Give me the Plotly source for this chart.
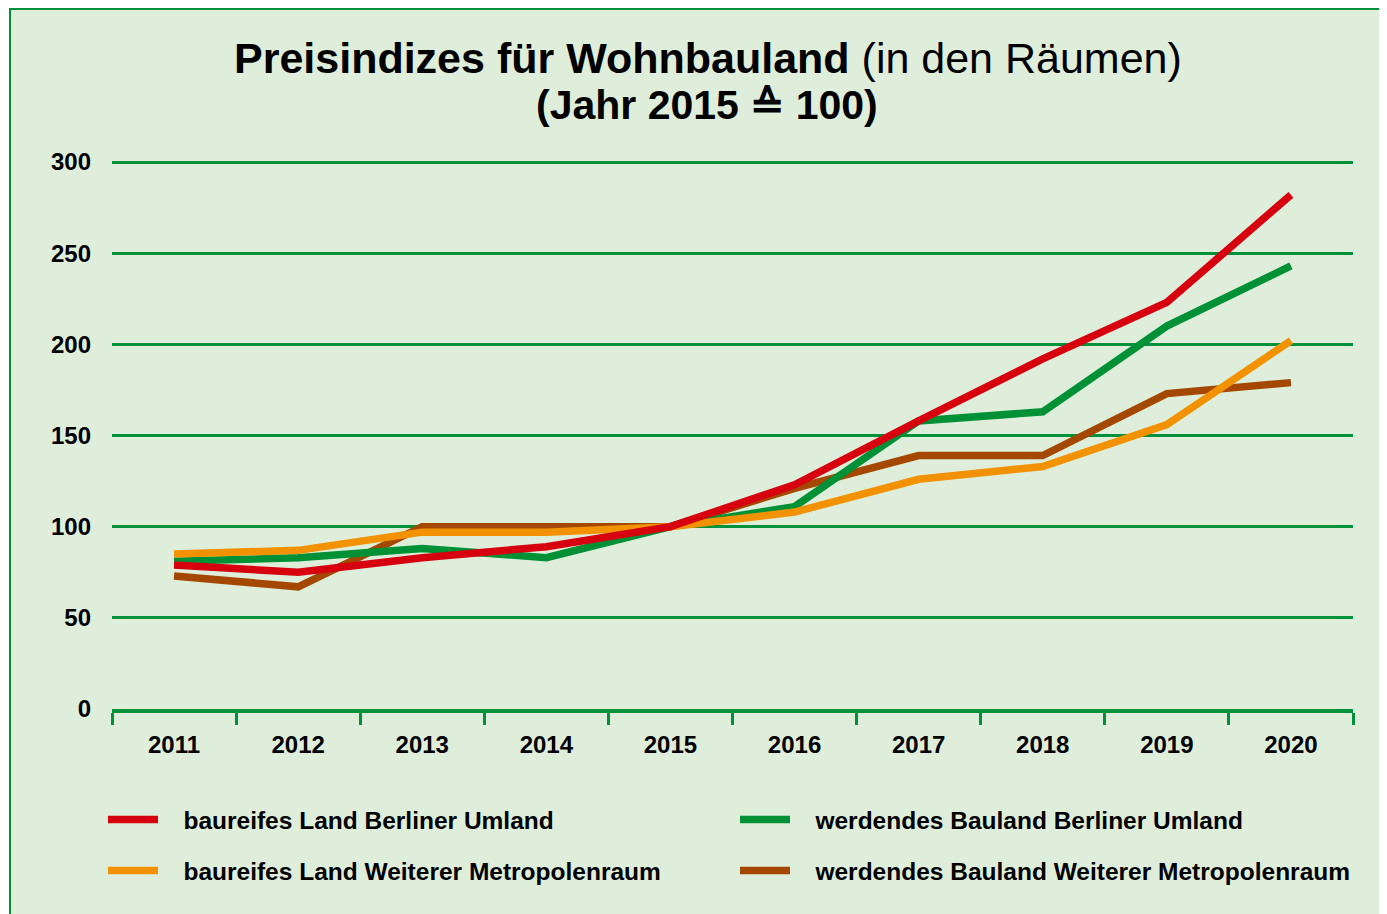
import plotly.graph_objects as go

years = ["2011", "2012", "2013", "2014", "2015", "2016", "2017", "2018", "2019", "2020"]
baureif_berlin = [79, 75, 83, 89, 100, 123, 158, 192, 223, 282]
werdend_berlin = [81, 83, 88, 83, 100, 111, 158, 163, 210, 243]
baureif_weiter = [85, 87, 97, 97, 100, 108, 126, 133, 156, 202]
werdend_weiter = [73, 67, 100, 100, 100, 121, 139, 139, 173, 179]

names = {
    "bb": "baureifes Land Berliner Umland",
    "wb": "werdendes Bauland Berliner Umland",
    "bw": "baureifes Land Weiterer Metropolenraum",
    "ww": "werdendes Bauland Weiterer Metropolenraum",
}
colors = {"bb": "#d7000f", "wb": "#009136", "bw": "#f39200", "ww": "#a44800"}

BG = "#dfeedb"
GRID = "#00923a"
FONT = "Liberation Sans, Arial, sans-serif"
PAD = "\u00a0\u00a0\u00a0"  # gap between legend symbol and text

# the page body has an 8px margin, so the figure is 8px smaller than the window
W, H = 1379, 906
L, R, T, B = 104, 34, 152, 205
pw, ph = W - L - R, H - T - B


def px_x(px):
    return (px - L) / pw


def px_y(py):
    return (H - B - py) / ph


fig = go.Figure()
# draw order: brown, green, orange, red (red on top)
fig.add_trace(go.Scatter(x=years, y=werdend_weiter, mode="lines", name=PAD + names["ww"],
                         line=dict(color=colors["ww"], width=7.5), legend="legend2", legendrank=2))
fig.add_trace(go.Scatter(x=years, y=werdend_berlin, mode="lines", name=PAD + names["wb"],
                         line=dict(color=colors["wb"], width=7.5), legend="legend", legendrank=2))
fig.add_trace(go.Scatter(x=years, y=baureif_weiter, mode="lines", name=PAD + names["bw"],
                         line=dict(color=colors["bw"], width=7.5), legend="legend2", legendrank=1))
fig.add_trace(go.Scatter(x=years, y=baureif_berlin, mode="lines", name=PAD + names["bb"],
                         line=dict(color=colors["bb"], width=7.5), legend="legend", legendrank=1))

legend_common = dict(
    orientation="h", xanchor="left", yanchor="top",
    font=dict(family=FONT, size=24.5, color="black", weight="bold"),
    bgcolor="rgba(0,0,0,0)", entrywidthmode="pixels", entrywidth=567,
    itemwidth=50, traceorder="normal",
)

fig.update_layout(
    width=W, height=H,
    margin=dict(l=L, r=R, t=T, b=B),
    paper_bgcolor="white",
    plot_bgcolor="rgba(0,0,0,0)",
    xaxis=dict(
        type="category", range=[-0.5, 9.5], tickson="boundaries",
        ticks="outside", ticklen=12, tickwidth=3, tickcolor=GRID,
        showline=True, linecolor=GRID, linewidth=4, showgrid=False,
        tickfont=dict(family=FONT, size=24, color="black", weight="bold"),
        ticklabelstandoff=11,
    ),
    yaxis=dict(
        range=[0, 301.1], dtick=50, tick0=0, showgrid=True, gridcolor=GRID, gridwidth=3,
        showline=False, zeroline=False, ticks="",
        tickfont=dict(family=FONT, size=24, color="black", weight="bold"),
        ticklabelstandoff=20,
    ),
    legend=dict(x=px_x(95), y=px_y(789), **legend_common),
    legend2=dict(x=px_x(95), y=px_y(840), **legend_common),
    shapes=[
        dict(type="rect", xref="paper", yref="paper", layer="below",
             x0=px_x(2), x1=px_x(W + 20), y0=px_y(H + 20), y1=px_y(1),
             fillcolor=BG, line=dict(color=GRID, width=2)),
    ],
    annotations=[
        dict(text="<b>Preisindizes für Wohnbauland</b> (in den Räumen)",
             xref="paper", yref="paper", x=px_x(699.5), y=px_y(50),
             xanchor="center", yanchor="middle", showarrow=False,
             font=dict(family=FONT, size=43, color="black")),
        dict(text="<b>(Jahr 2015 ≙ 100)</b>",
             xref="paper", yref="paper", x=px_x(699), y=px_y(97),
             xanchor="center", yanchor="middle", showarrow=False,
             font=dict(family=FONT, size=41, color="black")),
    ],
)

fig.write_html("out.html")
